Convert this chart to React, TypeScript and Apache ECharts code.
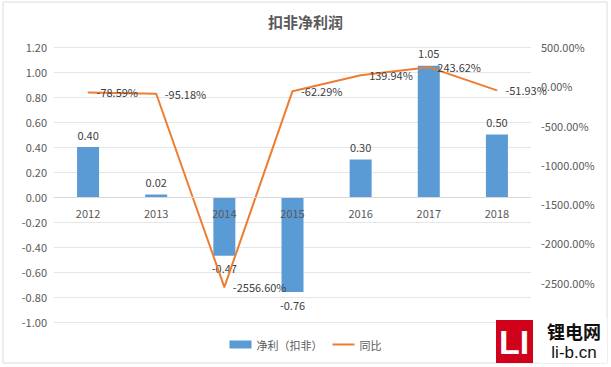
import React, { useEffect, useRef } from "react";
import * as echarts from "echarts";

const years = ["2012", "2013", "2014", "2015", "2016", "2017", "2018"];
const profit = [0.4, 0.02, -0.47, -0.76, 0.3, 1.05, 0.5];
const yoy = [-78.59, -95.18, -2556.6, -62.29, 139.94, 243.62, -51.93];

const yMin = -1;
const yMax = 1.2;
const gridTop = 47;
const gridBottom = 45;
const chartH = 367;

export default function App() {
  const ref = useRef<HTMLDivElement>(null);
  useEffect(() => {
    document.body.style.margin = "0";
    const chart = echarts.init(ref.current!, null, { renderer: "svg" });
    const font = "'Noto Sans CJK SC', 'Microsoft YaHei', sans-serif";
    const plotH = chartH - gridTop - gridBottom;
    const zeroOffset = -Math.round((plotH * (0 - yMin)) / (yMax - yMin));
    chart.setOption({
      animation: false,
      backgroundColor: "#ffffff",
      textStyle: { fontFamily: font },
      title: {
        text: "扣非净利润",
        left: "center",
        top: 9,
        textStyle: { fontSize: 15, fontWeight: "bold", color: "#595959", fontFamily: font },
      },
      legend: {
        bottom: 12,
        left: "center",
        itemWidth: 22,
        itemHeight: 8,
        itemGap: 10,
        textStyle: { fontSize: 11, color: "#595959" },
        data: [
          { name: "净利（扣非）", icon: "rect" },
          { name: "同比", icon: "path://M0,0 M0,3 L22,3 L22,5 L0,5 Z M22,8" },
        ],
      },
      grid: { left: 54, right: 80, top: gridTop, bottom: gridBottom },
      xAxis: {
        type: "category",
        data: years,
        position: "bottom",
        offset: zeroOffset,
        z: 5,
        axisLine: { onZero: false, lineStyle: { color: "#d9d9d9" } },
        axisTick: { show: false },
        axisLabel: { color: "#595959", fontSize: 11, margin: 10 },
      },
      yAxis: [
        {
          type: "value",
          min: yMin,
          max: yMax,
          interval: 0.2,
          axisLine: { show: false },
          axisTick: { show: false },
          splitLine: { lineStyle: { color: "#e6e6e6" } },
          axisLabel: {
            color: "#595959",
            fontSize: 11,
            margin: 7,
            formatter: (v: number) => v.toFixed(2),
          },
        },
        {
          type: "value",
          min: -3000,
          max: 500,
          interval: 500,
          axisLine: { show: false },
          axisTick: { show: false },
          splitLine: { show: false },
          axisLabel: {
            color: "#595959",
            fontSize: 11,
            margin: 10,
            formatter: (v: number) => v.toFixed(2) + "%",
          },
        },
      ],
      series: [
        {
          name: "净利（扣非）",
          type: "bar",
          barWidth: 22,
          itemStyle: { color: "#5B9BD5" },
          data: profit.map((v) => ({
            value: v,
            label: { position: v < 0 ? "bottom" : "top" },
          })),
          label: {
            show: true,
            color: "#404040",
            fontSize: 11,
            distance: 7,
            formatter: (p: any) => Number(p.value).toFixed(2),
          },
        },
        {
          name: "同比",
          type: "line",
          yAxisIndex: 1,
          symbol: "circle",
          symbolSize: 1,
          showSymbol: true,
          lineStyle: { color: "#ED7D31", width: 2 },
          itemStyle: { color: "#ED7D31" },
          data: yoy,
          label: {
            show: true,
            position: "right",
            distance: 8,
            color: "#404040",
            fontSize: 11,
            formatter: (p: any) => Number(p.value).toFixed(2) + "%",
          },
        },
      ],
      graphic: [
        {
          type: "rect",
          shape: { x: 3, y: 2, width: 604, height: 361 },
          style: { fill: "none", stroke: "#d9dde3", lineWidth: 1 },
          silent: true,
        },
        {
          type: "rect",
          shape: { x: 496, y: 320, width: 37, height: 43 },
          style: { fill: "#d0021b" },
          z: 100,
        },
        {
          type: "text",
          x: 514,
          y: 342,
          style: {
            text: "LI",
            fill: "#ffffff",
            font: "bold 34px 'Liberation Sans', sans-serif",
            align: "center",
            verticalAlign: "middle",
          },
          z: 101,
        },
        {
          type: "rect",
          shape: { x: 538, y: 318, width: 69, height: 45 },
          style: { fill: "#ffffff" },
          z: 100,
        },
        {
          type: "text",
          x: 574,
          y: 331,
          style: {
            text: "锂电网",
            fill: "#111111",
            font: "bold 18px 'Noto Sans CJK SC', sans-serif",
            align: "center",
            verticalAlign: "middle",
          },
          z: 101,
        },
        {
          type: "text",
          x: 574,
          y: 352,
          style: {
            text: "li-b.cn",
            fill: "#111111",
            font: "17px 'Liberation Sans', sans-serif",
            align: "center",
            verticalAlign: "middle",
          },
          z: 101,
        },
      ],
    });
    return () => chart.dispose();
  }, []);
  return <div ref={ref} style={{ width: 611, height: 367 }} />;
}
